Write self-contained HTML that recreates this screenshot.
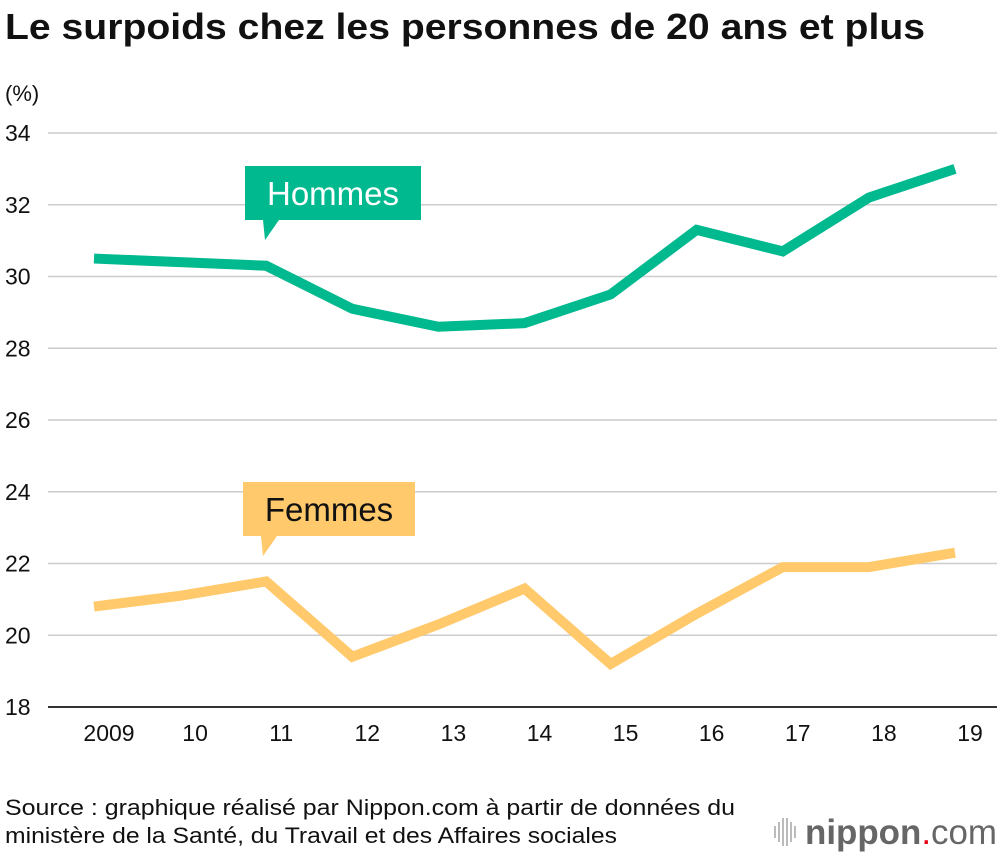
<!DOCTYPE html>
<html><head><meta charset="utf-8"><style>
body{margin:0;background:#fff;font-family:"Liberation Sans",sans-serif;}
#wrap{position:relative;width:1000px;height:856px;overflow:hidden;}
</style></head><body>
<div id="wrap">
<svg id="chart" width="1000" height="856"></svg>
</div>
<script>
const years=["2009","10","11","12","13","14","15","16","17","18","19"];
const hommes=[30.5,30.4,30.3,29.1,28.6,28.7,29.5,31.3,30.7,32.2,33.0];
const femmes=[20.8,21.1,21.5,19.4,20.3,21.3,19.2,20.6,21.9,21.9,22.3];
const yTicks=[18,20,22,24,26,28,30,32,34];
const NS="http://www.w3.org/2000/svg";
const svg=document.getElementById('chart');
function X(i){return 94+i*86.1;}
function Y(v){return 707-(v-18)*35.875;}
function mk(t,a,p){const e=document.createElementNS(NS,t);for(const k in a)e.setAttribute(k,a[k]);(p||svg).appendChild(e);return e;}
let t=mk('text',{x:5,y:39,'font-size':36,'font-weight':'bold',fill:'#111',textLength:920,lengthAdjust:'spacingAndGlyphs'});t.textContent='Le surpoids chez les personnes de 20 ans et plus';


t=mk('text',{x:5,y:101,'font-size':22,fill:'#111'});t.textContent='(%)';


yTicks.forEach(v=>{
 const l=mk('line',{x1:48,x2:997,y1:Y(v),y2:Y(v),stroke:v===18?'#333':'#ccc','stroke-width':v===18?2:1.5});
 
 
 const tx=mk('text',{x:5,y:Y(v)+8,'font-size':23,fill:'#111'});tx.textContent=v;
 
 
});
years.forEach((y,i)=>{
 const tx=mk('text',{x:X(i)+15,y:741,'font-size':23,fill:'#111','text-anchor':'middle'});tx.textContent=y;
 
 
});
function line(arr,col,name){
 const p=mk('polyline',{points:arr.map((v,i)=>X(i)+','+Y(v)).join(' '),fill:'none',stroke:col,'stroke-width':10,'stroke-linejoin':'miter'});
 
 
}
line(hommes,'#00b98e','hommes-line');
line(femmes,'#ffc96c','femmes-line');
function label(x,y,w,txt,col,name){
 const g=mk('g',{});
 
 
 mk('rect',{x:x,y:y,width:w,height:54,fill:col},g);
 mk('polygon',{points:`${x+18},${y+54} ${x+34},${y+54} ${x+20},${y+74}`,fill:col},g);
 const tt=mk('text',{x:x+w/2,y:y+39,'font-size':33,fill:col==='#00b98e'?'#fff':'#111','text-anchor':'middle'},g);tt.textContent=txt;
}
label(245,166,176,'Hommes','#00b98e','hommes-label');
label(243,482,172,'Femmes','#ffc96c','femmes-label');
t=mk('text',{x:5,y:815,'font-size':22,fill:'#111',textLength:730,lengthAdjust:'spacingAndGlyphs'});t.textContent='Source : graphique réalisé par Nippon.com à partir de données du';


t=mk('text',{x:5,y:843,'font-size':22,fill:'#111',textLength:612,lengthAdjust:'spacingAndGlyphs'});t.textContent='ministère de la Santé, du Travail et des Affaires sociales';


const lg=mk('g',{});


[[774,6],[778,10],[782,14],[786,14],[790,10],[794,6]].forEach(([x,h])=>mk('rect',{x:x,y:832-h,width:2,height:h*2,fill:'#bbb'},lg));
t=mk('text',{x:805,y:844,'font-size':35,fill:'#666',textLength:192,lengthAdjust:'spacingAndGlyphs'},lg);
const a=mk('tspan',{'font-weight':'bold'},t);a.textContent='nippon';
const b=mk('tspan',{fill:'#e60012'},t);b.textContent='.';
const c=mk('tspan',{},t);c.textContent='com';
</script>
</body></html>
